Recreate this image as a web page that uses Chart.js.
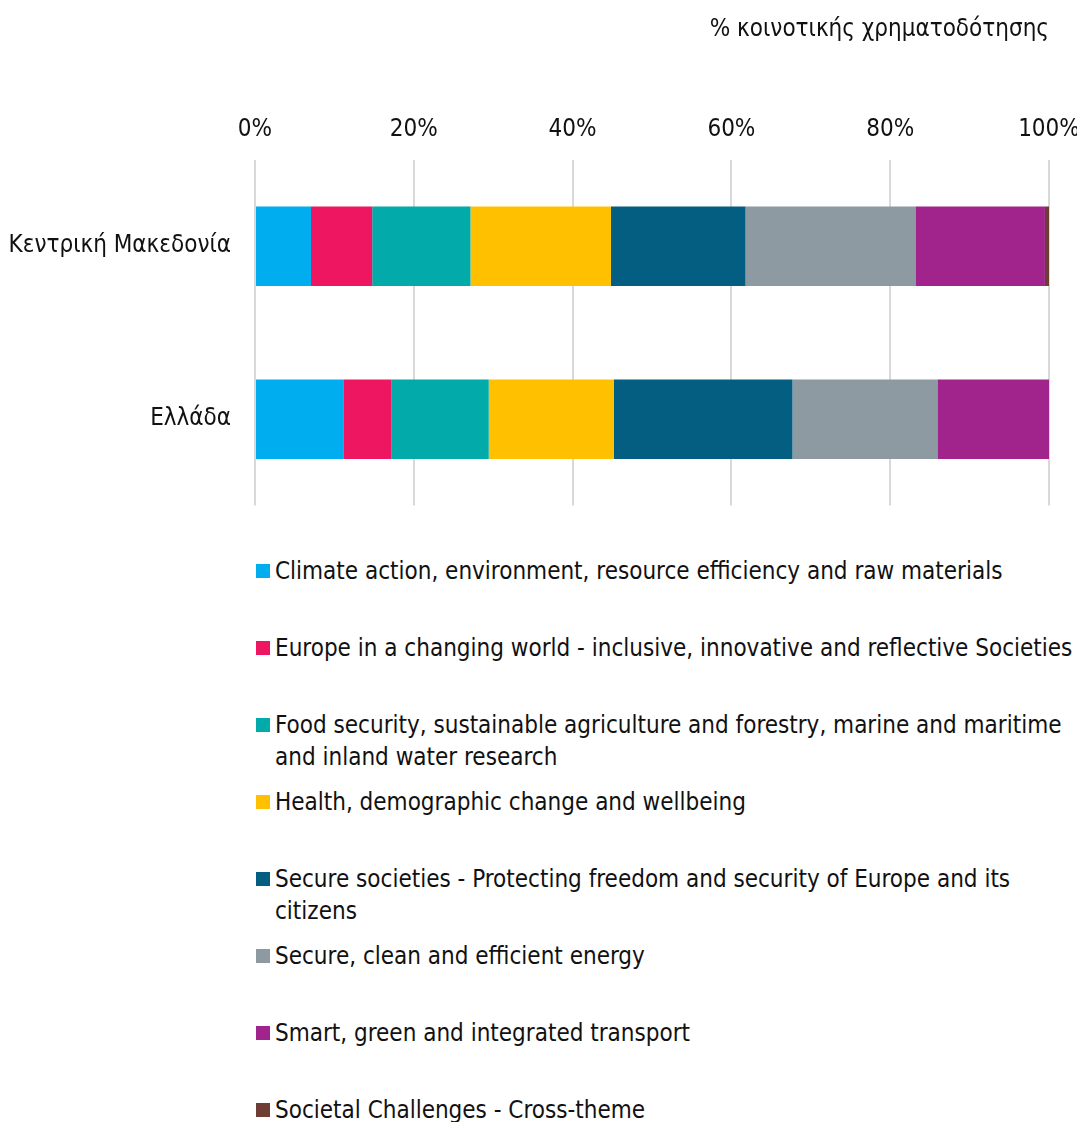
<!DOCTYPE html>
<html>
<head>
<meta charset="utf-8">
<script src="https://cdn.jsdelivr.net/npm/chart.js@4"></script>
<style>
body { margin: 0; background: #fff; }
#wrap { position: relative; width: 1077px; height: 1122px; overflow: hidden; }
#legend { position: absolute; left: 256px; top: 555px; margin: 0; padding: 0; list-style: none; font-family: "DejaVu Sans Condensed", sans-serif; font-size: 24px; color: #111; }
#legend li { position: relative; height: 77px; line-height: 32px; padding-left: 19px; width: 800px; }
#legend li span { position: absolute; left: 0; top: 9px; width: 14px; height: 14px; }
</style>
</head>
<body>
<div id="wrap">
<canvas id="chart" width="1077" height="536"></canvas>
<ul id="legend"></ul>
</div>
<script>
var regions = ['Κεντρική Μακεδονία', 'Ελλάδα'];
var xTicks = [0, 20, 40, 60, 80, 100];

var themes = [
    'Climate action, environment, resource efficiency and raw materials',
    'Europe in a changing world - inclusive, innovative and reflective Societies',
    'Food security, sustainable agriculture and forestry, marine and maritime and inland water research',
    'Health, demographic change and wellbeing',
    'Secure societies - Protecting freedom and security of Europe and its citizens',
    'Secure, clean and efficient energy',
    'Smart, green and integrated transport',
    'Societal Challenges - Cross-theme'
];
var colors = ['#00ADEE', '#EE1660', '#02ABAA', '#FFC000', '#045E82', '#8D9AA2', '#A0248C', '#6E3E35'];

// % share per region: [Κεντρική Μακεδονία, Ελλάδα]
var climate = [7.05, 11.2];
var europe = [7.71, 5.95];
var food = [12.38, 12.29];
var health = [17.69, 15.73];
var secure = [16.95, 22.52];
var energy = [21.39, 18.25];
var transport = [16.32, 14.09];
var crossTheme = [0.54, 0];

var series = [climate, europe, food, health, secure, energy, transport, crossTheme];

var FONT = 'DejaVu Sans Condensed';

var datasets = series.map(function (vals, i) {
    return {
        label: themes[i],
        data: vals,
        backgroundColor: colors[i],
        borderWidth: 0,
        barPercentage: 0.46,
        categoryPercentage: 1
    };
});

var ctx = document.getElementById('chart').getContext('2d');
var chart = new Chart(ctx, {
    type: 'bar',
    data: { labels: regions, datasets: datasets },
    options: {
        indexAxis: 'y',
        responsive: false,
        animation: false,
        layout: { padding: { left: 0, right: 28, top: 0, bottom: 14 } },
        plugins: {
            legend: { display: false },
            tooltip: { enabled: false },
            title: {
                display: true,
                fullSize: false,
                text: '% κοινοτικής χρηματοδότησης',
                align: 'end',
                color: '#111',
                font: { family: FONT, size: 24, weight: 'normal' },
                padding: { top: 15, bottom: 0 }
            }
        },
        scales: {
            x: {
                position: 'top',
                stacked: true,
                min: 0,
                max: 100,
                afterBuildTicks: function (scale) {
                    scale.ticks = xTicks.map(function (v) { return { value: v }; });
                },
                afterFit: function (scale) {
                    scale.height = 116;
                    // let the "100%" label hang over the right padding
                    scale.paddingRight = 0;
                },
                ticks: {
                    padding: 16,
                    color: '#111',
                    font: { family: FONT, size: 24 },
                    callback: function (v) { return v + '%'; }
                },
                grid: { color: '#d9d9d9', lineWidth: 2, drawTicks: false },
                border: { display: false }
            },
            y: {
                stacked: true,
                afterFit: function (scale) { scale.width = 255; },
                ticks: {
                    padding: 16,
                    color: '#111',
                    font: { family: FONT, size: 24 }
                },
                grid: { display: false },
                border: { display: false }
            }
        }
    }
});

var legend = document.getElementById('legend');
chart.data.datasets.forEach(function (ds) {
    var li = document.createElement('li');
    var sw = document.createElement('span');
    sw.style.background = ds.backgroundColor;
    li.appendChild(sw);
    li.appendChild(document.createTextNode(ds.label));
    legend.appendChild(li);
});
</script>
</body>
</html>
